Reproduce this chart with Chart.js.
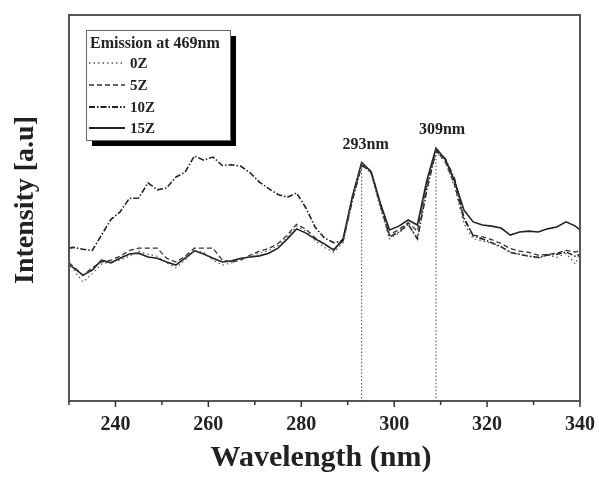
<!DOCTYPE html>
<html>
<head>
<meta charset="utf-8">
<script src="https://cdn.jsdelivr.net/npm/chart.js@4.4.1/dist/chart.umd.min.js"></script>
<style>
  html, body { margin: 0; padding: 0; background: #fff; }
  #wrap { width: 599px; height: 477px; position: relative; }
</style>
</head>
<body>
<div id="wrap"><canvas id="c" width="599" height="477"></canvas></div>
<script>
// ---- data ----
const wavelengths = [230,231,233,235,237,239,241,243,245,247,249,251,253,255,257,259,261,263,265,267,269,271,273,275,277,279,281,283,285,287,289,291,293,295,297,299,301,303,305,307,309,311,313,315,317,319,321,323,325,327,329,331,333,335,337,339,340];

const s0Z = [36.0,34.0,30.8,33.0,35.5,36.0,36.5,37.5,38.8,38.0,37.5,35.8,34.5,36.5,39.0,38.5,36.5,35.2,35.8,36.8,37.5,38.3,39.0,40.3,42.5,45.3,44.0,41.5,39.8,38.6,41.0,52.5,61.3,59.0,50.0,42.0,43.5,45.6,42.3,55.5,64.5,62.0,55.5,46.0,42.0,41.5,40.8,39.8,38.6,38.0,37.6,37.0,37.8,37.2,38.2,35.5,38.5];

const s5Z = [35.8,34.8,32.5,34.5,36.0,36.5,37.5,39.0,39.6,39.6,39.6,37.0,36.0,37.5,39.6,39.6,39.6,36.5,36.0,36.5,37.8,38.8,39.5,40.8,43.0,45.8,44.5,42.3,40.5,39.3,41.5,52.8,61.6,59.2,50.8,43.0,44.5,46.2,44.0,56.0,65.0,62.0,56.0,47.0,43.0,42.5,41.8,40.8,39.5,38.8,38.5,37.8,38.0,38.3,39.0,38.6,39.0];

const s10Z = [39.6,39.8,39.3,39.0,43.0,47.0,49.0,52.5,52.6,56.5,54.7,55.2,58.0,59.3,63.5,62.4,63.2,61.0,61.2,60.8,59.1,56.7,55.0,53.5,52.8,53.9,50.0,45.0,42.2,41.0,41.5,52.0,61.0,59.6,51.0,42.5,43.8,45.8,42.0,54.5,64.8,62.8,57.5,47.5,42.8,42.0,41.0,40.0,38.5,38.0,37.5,37.2,37.8,38.0,38.6,37.5,38.0];

const s15Z = [35.2,34.5,32.6,33.9,36.5,35.8,37.0,38.1,38.3,37.3,37.0,36.0,35.2,37.0,38.9,38.1,37.0,36.0,36.3,37.0,37.3,37.6,38.3,39.6,42.0,44.6,43.5,42.0,40.7,39.1,42.0,53.0,61.8,59.5,51.3,44.3,45.3,46.9,45.6,57.0,65.5,62.6,57.0,49.5,46.4,45.6,45.3,44.8,43.0,43.8,44.0,43.8,44.6,45.1,46.4,45.3,44.3];

const seriesNames = ['0Z','5Z','10Z','15Z'];
const xTickLabels = [240,260,280,300,320,340];
const xMinorTicks = [230,250,270,290,310,330];
const peakLabels = [{x:293, text:'293nm'}, {x:309, text:'309nm'}];
const legendTitle = 'Emission at 469nm';
const xTitle = 'Wavelength (nm)';
const yTitle = 'Intensity [a.u]';

// ---- styles ----
const styles = [
  {color:'#555', width:1.2, dash:[1.5,3]},
  {color:'#333', width:1.3, dash:[5,3]},
  {color:'#222', width:1.6, dash:[6,2,1.5,2]},
  {color:'#222', width:1.6, dash:[]}
];
const allSeries = [s0Z, s5Z, s10Z, s15Z];
const serif = '"Liberation Serif", "DejaVu Serif", serif';

const datasets = allSeries.map((vals, i) => ({
  label: seriesNames[i],
  data: wavelengths.map((w, j) => ({x: w, y: vals[j]})),
  borderColor: styles[i].color,
  borderWidth: styles[i].width,
  borderDash: styles[i].dash,
  pointRadius: 0,
  tension: 0,
  fill: false
}));

const decor = {
  id: 'decor',
  afterDraw(chart) {
    const ctx = chart.ctx;
    const xs = chart.scales.x, ys = chart.scales.y;
    const a = chart.chartArea;
    ctx.save();
    // frame
    ctx.strokeStyle = '#555';
    ctx.lineWidth = 2;
    ctx.setLineDash([]);
    ctx.strokeRect(a.left, a.top, a.right - a.left, a.bottom - a.top);
    // ticks
    ctx.lineWidth = 1.5;
    ctx.strokeStyle = '#333';
    xTickLabels.forEach(v => {
      const px = xs.getPixelForValue(v);
      ctx.beginPath(); ctx.moveTo(px, a.bottom); ctx.lineTo(px, a.bottom + 6); ctx.stroke();
    });
    xMinorTicks.forEach(v => {
      const px = xs.getPixelForValue(v);
      ctx.beginPath(); ctx.moveTo(px, a.bottom); ctx.lineTo(px, a.bottom + 4); ctx.stroke();
    });
    // vertical dotted peak lines
    ctx.strokeStyle = '#444';
    ctx.lineWidth = 1;
    ctx.setLineDash([1.5, 2]);
    peakLabels.forEach(p => {
      const idx = wavelengths.indexOf(p.x);
      const top = Math.max(s0Z[idx], s5Z[idx], s10Z[idx], s15Z[idx]);
      const px = xs.getPixelForValue(p.x);
      ctx.beginPath(); ctx.moveTo(px, ys.getPixelForValue(top)); ctx.lineTo(px, a.bottom); ctx.stroke();
    });
    ctx.setLineDash([]);
    // peak labels
    ctx.fillStyle = '#222';
    ctx.font = 'bold 16px ' + serif;
    ctx.textAlign = 'center';
    ctx.textBaseline = 'middle';
    const offs = [4, 6];
    peakLabels.forEach((p, k) => {
      const idx = wavelengths.indexOf(p.x);
      const top = Math.max(s0Z[idx], s5Z[idx], s10Z[idx], s15Z[idx]);
      ctx.fillText(p.text, xs.getPixelForValue(p.x) + offs[k], ys.getPixelForValue(top) - 18);
    });
    // axis titles
    ctx.font = 'bold 30px ' + serif;
    ctx.fillText(xTitle, 321, 458);
    ctx.save();
    ctx.translate(26, 200);
    ctx.rotate(-Math.PI / 2);
    ctx.font = 'bold 28px ' + serif;
    ctx.fillText(yTitle, 0, 0);
    ctx.restore();
    // legend box with shadow
    const bx = 86, by = 30, bw = 144, bh = 110;
    ctx.fillStyle = '#000';
    ctx.fillRect(bx + 6, by + 6, bw, bh);
    ctx.fillStyle = '#fff';
    ctx.fillRect(bx, by, bw, bh);
    ctx.strokeStyle = '#666';
    ctx.lineWidth = 1;
    ctx.strokeRect(bx + 0.5, by + 0.5, bw, bh);
    ctx.fillStyle = '#222';
    ctx.font = 'bold 16px ' + serif;
    ctx.textAlign = 'left';
    ctx.fillText(legendTitle, bx + 4, 44);
    const rows = [63, 85, 107, 128];
    seriesNames.forEach((n, i) => {
      ctx.strokeStyle = styles[i].color;
      ctx.lineWidth = styles[i].width + 0.2;
      ctx.setLineDash(styles[i].dash);
      ctx.beginPath(); ctx.moveTo(bx + 3, rows[i]); ctx.lineTo(bx + 39, rows[i]); ctx.stroke();
      ctx.setLineDash([]);
      ctx.fillStyle = '#222';
      ctx.font = 'bold 15px ' + serif;
      ctx.fillText(n, bx + 44, rows[i] + 1);
    });
    ctx.restore();
  }
};

new Chart(document.getElementById('c'), {
  type: 'line',
  data: { datasets },
  options: {
    responsive: false,
    animation: false,
    layout: { padding: { top: 15, right: 19, left: 0, bottom: 0 } },
    plugins: { legend: { display: false }, tooltip: { enabled: false } },
    scales: {
      x: {
        type: 'linear',
        min: 230, max: 340,
        grid: { display: false, drawTicks: false },
        border: { display: false },
        ticks: {
          stepSize: 10,
          padding: 12,
          maxRotation: 0,
          color: '#222',
          font: { family: serif, size: 20, weight: 'bold' },
          callback: v => xTickLabels.includes(v) ? String(v) : ''
        },
        afterFit: s => { s.height = 76; s.paddingRight = 0; s.paddingLeft = 0; }
      },
      y: {
        min: 0, max: 100,
        grid: { display: false },
        border: { display: false },
        ticks: { display: false },
        afterFit: s => { s.width = 69; s.paddingTop = 0; s.paddingBottom = 0; }
      }
    }
  },
  plugins: [decor]
});
</script>
</body>
</html>
